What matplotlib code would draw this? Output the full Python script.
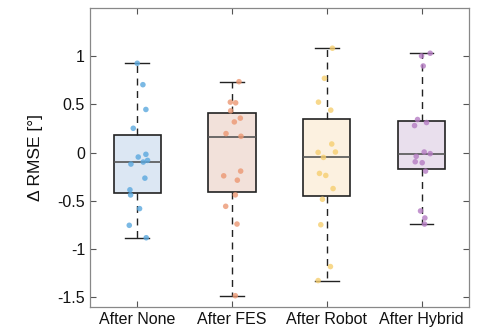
import matplotlib
matplotlib.use("Agg")
import matplotlib.pyplot as plt
import numpy as np

plt.rcParams['font.family'] = ['Liberation Sans', 'DejaVu Sans']

categories = ["After None", "After FES", "After Robot", "After Hybrid"]

# point values per group
none_vals = [0.927, 0.705, 0.448, 0.253, -0.045, -0.017, -0.118, -0.097, -0.080,
             -0.264, -0.385, -0.438, -0.580, -0.753, -0.882]
fes_vals = [0.736, 0.524, 0.517, 0.434, 0.358, 0.319, 0.198, 0.170, -0.191,
            -0.240, -0.285, -0.4375, -0.556, -0.740, -1.483]
robot_vals = [1.083, 0.771, 0.524, 0.441, 0.090, 0.003, 0.007, -0.049, -0.215,
              -0.236, -0.372, -0.483, -0.747, -1.181, -1.326]
hybrid_vals = [1.031, 1.003, 0.899, 0.344, 0.3125, 0.281, 0.007, -0.010, -0.038,
               -0.094, -0.104, -0.191, -0.604, -0.677, -0.740]

# horizontal jitter of each point (in category units)
none_jit = [0, 17, 26, -12, 3, 26, -19, 18, 31, 23, -22, -20, 7, -24, 27]
fes_jit = [21, -5, 11, -4, 25, 7, -18, 27, 26, -25, 16, 10, -19, 15, 10]
robot_jit = [17, -7, -25, 12, 15, -26, 26, -10, -22, -3, 19, -13, -18, 11, -26]
hybrid_jit = [26, 0, 5, -12, 15, -21, 8, 26, -16, -19, 2, 12, -3, 10, 9]

# box statistics
q1 = [-0.420, -0.403, -0.451, -0.167]
med = [-0.094, 0.167, -0.049, -0.010]
q3 = [0.1875, 0.413, 0.354, 0.333]
whislo = [-0.882, -1.483, -1.326, -0.740]
whishi = [0.927, 0.736, 1.083, 1.031]

point_colors = ["#5aa8de", "#ec9873", "#f6cf70", "#b57cc3"]
face_colors = ["#dce7f3", "#f2e1da", "#fcf1e0", "#e9dfed"]

values = [none_vals, fes_vals, robot_vals, hybrid_vals]
jitters = [none_jit, fes_jit, robot_jit, hybrid_jit]

fig = plt.figure(figsize=(4.78, 3.35), dpi=100)
ax = fig.add_axes([0.188, 0.0836, 0.793, 0.8925])

stats = []
for i in range(4):
    stats.append(dict(med=med[i], q1=q1[i], q3=q3[i], whislo=whislo[i],
                      whishi=whishi[i], fliers=[]))

bp = ax.bxp(stats, positions=[1, 2, 3, 4], widths=0.5, patch_artist=True,
            showfliers=False,
            boxprops=dict(edgecolor="#222222", linewidth=1.2),
            whiskerprops=dict(color="#222222", linestyle=(0, (5, 4)), linewidth=1.0),
            capprops=dict(color="#222222", linewidth=1.0),
            medianprops=dict(color="#555555", linewidth=1.2),
            capwidths=0.25)
for patch, fc in zip(bp['boxes'], face_colors):
    patch.set_facecolor(fc)

for i in range(4):
    xs = (i + 1) + np.array(jitters[i]) / 3.0 / 95.0
    ax.scatter(xs, values[i], s=16, color=point_colors[i], alpha=0.8,
               edgecolors='none', zorder=3)

ax.set_xlim(0.5, 4.5)
ax.set_ylim(-1.6, 1.5)
ax.set_xticks([1, 2, 3, 4])
ax.set_xticklabels(categories, fontsize=11.5)
ax.set_yticks([-1.5, -1, -0.5, 0, 0.5, 1])
ax.set_yticklabels(["-1.5", "-1", "-0.5", "0", "0.5", "1"], fontsize=11.5)
ax.tick_params(direction='in', top=True, right=True,
               length=4, color="#555555", labelcolor="#111111")
for s in ax.spines.values():
    s.set_color("#888888")
    s.set_linewidth(0.9)
ax.set_ylabel("Δ RMSE [°]", fontsize=12.5, color="#111111", labelpad=10)

fig.savefig("out.png", dpi=100)
